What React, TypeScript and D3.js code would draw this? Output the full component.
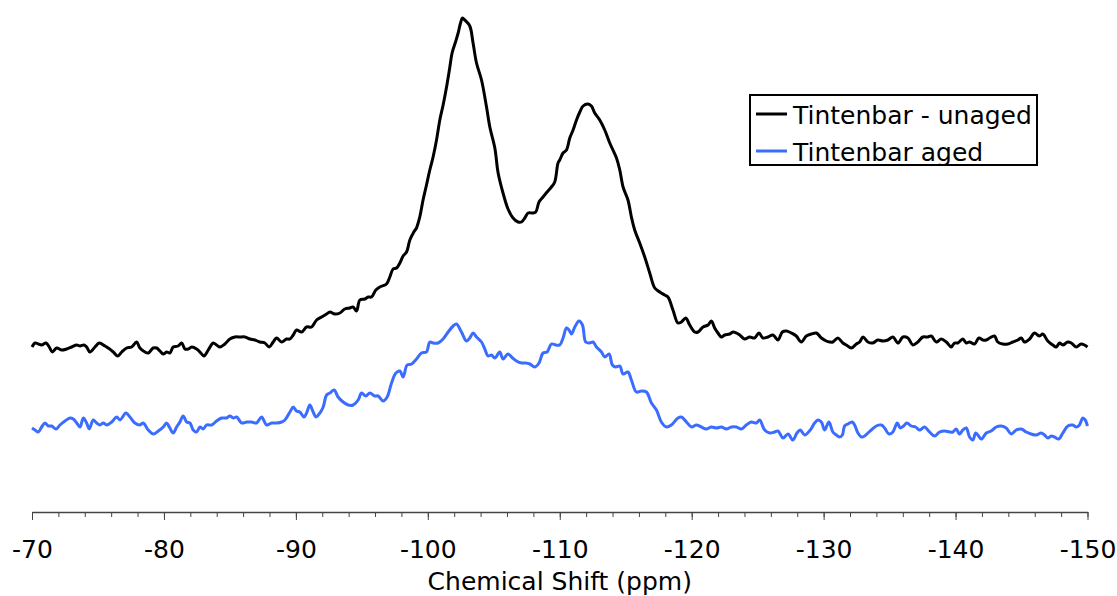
import { useEffect, useRef } from "react";
import * as d3 from "d3";

// chemical shift (ppm) and intensity (arb. units)
const unagedShift = [
  -70.0, -70.23, -70.48, -70.73, -71.06, -71.31, -71.54, -71.87, -72.25, -72.63,
  -73.01, -73.39, -73.64, -73.94, -74.14, -74.39, -74.77, -75.1, -75.53, -75.78,
  -76.16, -76.49, -76.8, -77.17, -77.55, -77.93, -78.18, -78.56, -78.81, -79.19,
  -79.45, -79.7, -79.95, -80.2, -80.45, -80.7, -81.08, -81.34, -81.59, -81.84,
  -82.1, -82.48, -82.86, -83.03, -83.36, -83.73, -83.99, -84.24, -84.62, -85.0,
  -85.38, -85.76, -86.14, -86.52, -86.89, -87.27, -87.65, -87.98, -88.28, -88.54,
  -88.92, -89.3,
  -89.55, -89.8, -90.05, -90.43, -90.81, -91.19, -91.57, -91.95, -92.33, -92.58,
  -92.95, -93.33, -93.71, -94.09, -94.34, -94.6, -94.85, -95.23, -95.48, -95.73,
  -96.06, -96.36, -96.87, -97.12, -97.37, -97.63, -97.88, -98.13, -98.39, -98.64,
  -98.94, -99.14, -99.39, -99.64, -99.9, -100.15, -100.4, -100.66, -100.91, -101.16,
  -101.42, -101.67, -101.84, -102.1, -102.3, -102.48, -102.63, -102.8, -103.18, -103.43,
  -103.69, -104.07, -104.45, -104.7, -105.08, -105.33, -105.7, -106.08, -106.46, -106.84,
  -107.1, -107.35, -107.6, -107.93, -108.18, -108.43, -108.73, -109.04, -109.37, -109.62,
  -109.87,
  -110.0, -110.25, -110.51, -110.76, -111.01, -111.27, -111.52, -111.77, -112.14, -112.4,
  -112.65, -113.03, -113.41, -113.79, -114.3, -114.55, -114.8, -115.17, -115.43, -115.68,
  -116.06, -116.44, -116.82, -117.2, -117.58, -117.95, -118.2, -118.58, -118.96, -119.22,
  -119.55, -119.85, -120.23, -120.48, -120.86, -121.24, -121.49, -121.74, -121.99, -122.25,
  -122.5, -122.88, -123.13, -123.39, -123.64, -124.02, -124.39, -124.77, -125.1, -125.4,
  -125.78, -126.16, -126.54, -126.87, -127.17, -127.55, -127.93, -128.31, -128.69, -129.07,
  -129.45, -129.83, -130.2,
  -130.45, -130.7, -131.08, -131.46, -131.72, -132.1, -132.48, -132.73, -132.98, -133.36,
  -133.73, -134.11, -134.49, -134.87, -135.25, -135.63, -136.01, -136.39, -136.77, -137.14,
  -137.52, -137.9, -138.16, -138.54, -138.92, -139.3, -139.67, -139.92, -140.17, -140.55,
  -140.81, -141.06, -141.44, -141.77, -142.07, -142.33, -142.58, -142.95, -143.2, -143.58,
  -143.96, -144.34, -144.72, -144.98, -145.23, -145.61, -145.98, -146.36, -146.61, -146.99,
  -147.37, -147.63, -147.88, -148.13, -148.51, -148.77, -149.14, -149.52, -149.77, -150.0,
];
const unagedIntensity = [
  165, 169, 168, 167, 169, 165, 160, 164, 162, 163,
  165, 167, 166, 167, 165, 160, 165, 169, 166, 164,
  160, 156, 160, 164, 165, 170, 164, 160, 159, 164,
  164, 161, 158, 160, 159, 165, 166, 169, 163, 163,
  165, 163, 158, 156, 162, 169, 167, 165, 168, 173,
  175, 175, 175, 173, 172, 170, 169, 165, 170, 174,
  170, 173,
  173, 177, 182, 180, 185, 185, 192, 195, 198, 200,
  198, 199, 203, 204, 205, 201, 212, 213, 215, 215,
  222, 225, 228, 235, 243, 244, 249, 256, 260, 272,
  280, 284, 295, 312, 327, 342, 355, 372, 392, 407,
  425, 445, 459, 470, 479, 489, 494, 492, 486, 469,
  449, 432, 405, 385, 364, 339, 319, 303, 294, 290,
  290, 294, 299, 299, 300, 310, 315, 320, 325, 330,
  349,
  352, 359, 362, 374, 382, 392, 400, 406, 408, 406,
  399, 392, 382, 369, 354, 342, 325, 312, 295, 282,
  269, 255, 239, 224, 220, 217, 215, 202, 189, 190,
  194, 187, 180, 180, 185, 187, 191, 184, 179, 175,
  177, 178, 180, 179, 177, 173, 175, 174, 179, 174,
  175, 177, 172, 180, 181, 179, 176, 170, 176, 178,
  179, 174, 171,
  170, 170, 174, 169, 167, 164, 168, 170, 175, 170,
  169, 172, 171, 172, 175, 169, 175, 174, 167, 170,
  175, 175, 176, 170, 173, 170, 165, 169, 169, 173,
  169, 170, 168, 174, 172, 172, 174, 176, 170, 168,
  168, 170, 172, 174, 170, 173, 179, 176, 178, 171,
  167, 165, 169, 167, 170, 169, 165, 168, 167, 165,
];

const agedShift = [
  -70.0, -70.23, -70.48, -70.73, -70.98, -71.23, -71.49, -71.82, -72.12, -72.5,
  -72.88, -73.13, -73.39, -73.64, -73.89, -74.14, -74.34, -74.64, -74.9, -75.15,
  -75.4, -75.66, -76.04, -76.42, -76.67, -77.12, -77.42, -77.8, -78.18, -78.43,
  -78.81, -79.19, -79.57, -79.95, -80.2, -80.45, -80.7, -80.96, -81.21, -81.46,
  -81.72, -81.97, -82.22, -82.48, -82.73, -82.98, -83.23, -83.61, -83.99, -84.37,
  -84.75, -85.0, -85.25, -85.51, -85.89, -86.27, -86.64, -87.02, -87.4, -87.78,
  -88.16, -88.54, -88.92, -89.17,
  -89.55, -89.8, -90.05, -90.3, -90.61, -90.81, -91.06, -91.31, -91.52, -91.82,
  -92.07, -92.33, -92.58, -92.9, -93.2, -93.58, -93.96, -94.34, -94.72, -94.98,
  -95.3, -95.61, -95.98, -96.23, -96.61, -96.92, -97.25, -97.58, -97.88, -98.13,
  -98.43, -98.77, -99.14, -99.52, -99.9, -100.15, -100.4, -100.78, -101.16, -101.54,
  -101.92, -102.17, -102.55, -102.93, -103.18, -103.43, -103.69, -104.07, -104.32, -104.57,
  -104.83, -105.08, -105.45, -105.7, -106.08, -106.42, -106.72, -107.1, -107.42, -107.73,
  -108.11, -108.43, -108.73, -109.04, -109.37, -109.7,
  -110.0, -110.25, -110.51, -110.7, -110.89, -111.14, -111.46, -111.72, -111.97, -112.27,
  -112.52, -112.78, -113.16, -113.41, -113.74, -113.99, -114.24, -114.55, -114.8, -115.17,
  -115.43, -115.81, -116.19, -116.57, -116.95, -117.33, -117.7, -118.08, -118.46, -118.96,
  -119.22, -119.6, -119.98, -120.36, -120.73, -121.11, -121.49, -121.87, -122.25, -122.63,
  -123.01, -123.39, -123.77, -124.14, -124.52, -124.9, -125.15, -125.53, -125.91, -126.29,
  -126.54, -126.92, -127.3, -127.67, -127.98, -128.23, -128.56, -128.99, -129.32, -129.57,
  -129.83, -130.08, -130.4,
  -130.7, -130.96, -131.21, -131.42, -131.59, -131.84, -132.17, -132.35, -132.6, -132.86,
  -133.11, -133.36, -133.61, -133.99, -134.37, -134.62, -134.95, -135.25, -135.58, -135.81,
  -136.06, -136.31, -136.64, -136.97, -137.27, -137.65, -138.03, -138.41, -138.79, -139.17,
  -139.55, -139.8, -140.05, -140.3, -140.55, -140.81, -141.06, -141.31, -141.52, -141.69,
  -141.95, -142.33, -142.7, -143.08, -143.46, -143.84, -144.22, -144.6, -144.98, -145.36,
  -145.73, -146.11, -146.49, -146.74, -146.99, -147.25, -147.5, -147.83, -148.13, -148.51,
  -148.89, -149.14, -149.39, -149.64, -149.83, -150.0,
];
const agedIntensity = [
  84, 82, 80, 85, 89, 86, 86, 83, 87, 91,
  94, 93, 89, 85, 94, 89, 83, 92, 89, 87,
  89, 87, 90, 95, 92, 99, 95, 89, 87, 89,
  82, 78, 81, 85, 89, 84, 79, 85, 90, 96,
  90, 89, 82, 80, 85, 83, 87, 87, 91, 94,
  94, 96, 94, 95, 89, 90, 90, 89, 95, 87,
  89, 89, 90, 92,
  100, 105, 101, 100, 95, 99, 107, 100, 95, 99,
  105, 117, 119, 122, 115, 110, 107, 107, 112, 119,
  116, 119, 116, 116, 111, 115, 129, 139, 141, 135,
  147, 148, 153, 159, 160, 170, 169, 169, 173, 180,
  186, 188, 180, 171, 174, 179, 175, 170, 163, 156,
  157, 154, 160, 153, 158, 154, 151, 149, 149, 148,
  145, 149, 159, 160, 168, 167,
  167, 174, 184, 182, 178, 185, 191, 187, 170, 169,
  170, 165, 160, 155, 158, 147, 145, 146, 138, 140,
  132, 120, 121, 120, 109, 102, 90, 85, 87, 94,
  95, 90, 85, 87, 85, 83, 85, 84, 85, 83,
  85, 85, 83, 87, 90, 89, 92, 82, 79, 80,
  81, 74, 78, 72, 79, 82, 77, 82, 89, 92,
  90, 82, 90,
  80, 77, 75, 77, 86, 88, 90, 87, 79, 75,
  76, 79, 82, 86, 87, 84, 78, 80, 89, 84,
  86, 89, 86, 85, 82, 85, 80, 76, 80, 81,
  80, 80, 83, 78, 82, 84, 75, 72, 79, 77,
  73, 79, 81, 85, 86, 84, 78, 82, 83, 80,
  78, 77, 79, 77, 74, 76, 75, 73, 79, 86,
  87, 85, 87, 94, 92, 86,
];

const majorTicks = [-70, -80, -90, -100, -110, -120, -130, -140, -150];
const minorTicks = [
  -70, -72, -74, -76, -78, -80, -82, -84, -86, -88, -90, -92, -94, -96, -98, -100,
  -102, -104, -106, -108, -110, -112, -114, -116, -118, -120, -122, -124, -126, -128,
  -130, -132, -134, -136, -138, -140, -142, -144, -146, -148, -150,
];

const seriesNames = ["Tintenbar - unaged", "Tintenbar aged"];
const seriesColors = ["#000000", "#3a6cff"];

const width = 1117;
const height = 596;
const font = "'DejaVu Sans', Verdana, sans-serif";
const fontSize = 25;

const App = () => {
  const ref = useRef(null);

  useEffect(() => {
    const svg = d3.select(ref.current);
    svg.selectAll("*").remove();

    const x = d3.scaleLinear().domain([-70, -150]).range([32, 1087.5]);
    const y = d3.scaleLinear().domain([0, 500]).range([512, 12]);

    const series = [
      unagedShift.map((s, i) => [s, unagedIntensity[i]]),
      agedShift.map((s, i) => [s, agedIntensity[i]]),
    ];

    const line = d3
      .line()
      .x((d) => x(d[0]))
      .y((d) => y(d[1]))
      .curve(d3.curveCatmullRom.alpha(0.5));

    svg
      .append("g")
      .selectAll("path")
      .data(series)
      .join("path")
      .attr("d", (d) => line(d))
      .attr("fill", "none")
      .attr("stroke", (d, i) => seriesColors[i])
      .attr("stroke-width", 3)
      .attr("stroke-linejoin", "round");

    // minor ticks
    svg
      .append("g")
      .attr("transform", `translate(0,${y(0)})`)
      .call(
        d3
          .axisBottom(x)
          .tickValues(minorTicks)
          .tickSize(5)
          .tickSizeOuter(0)
          .tickFormat(() => "")
      )
      .call((g) => g.select(".domain").remove())
      .call((g) => g.selectAll("line").attr("stroke", "#444"));

    // major ticks + labels (font set after the call, axis overrides it)
    svg
      .append("g")
      .attr("transform", `translate(0,${y(0)})`)
      .call(
        d3
          .axisBottom(x)
          .tickValues(majorTicks)
          .tickSize(8)
          .tickSizeOuter(0)
          .tickPadding(20)
          .tickFormat((d) => String(d))
      )
      .attr("font-size", fontSize)
      .attr("font-family", font)
      .call((g) => g.select(".domain").attr("stroke", "#444").attr("stroke-width", 1.3))
      .call((g) => g.selectAll("line").attr("stroke", "#444"))
      .call((g) => g.selectAll("text").attr("fill", "#000"));

    svg
      .append("text")
      .attr("x", (x(-70) + x(-150)) / 2)
      .attr("y", 590)
      .attr("text-anchor", "middle")
      .attr("font-size", fontSize)
      .attr("font-family", font)
      .text("Chemical Shift (ppm)");

    // legend
    const legend = svg.append("g").attr("transform", "translate(750,95)");
    legend
      .append("rect")
      .attr("width", 287)
      .attr("height", 70)
      .attr("fill", "#fff")
      .attr("stroke", "#000")
      .attr("stroke-width", 2);
    const item = legend
      .selectAll("g")
      .data(seriesNames)
      .join("g")
      .attr("transform", (d, i) => `translate(0,${19 + i * 37})`);
    item
      .append("line")
      .attr("x1", 6)
      .attr("x2", 37)
      .attr("stroke", (d, i) => seriesColors[i])
      .attr("stroke-width", 3);
    item
      .append("text")
      .attr("x", 43)
      .attr("y", 10)
      .attr("font-size", fontSize)
      .attr("font-family", font)
      .text((d) => d);
  }, []);

  return (
    <svg
      ref={ref}
      width={width}
      height={height}
      style={{ position: "absolute", left: 0, top: 0, background: "#fff" }}
    ></svg>
  );
};

export default App;
